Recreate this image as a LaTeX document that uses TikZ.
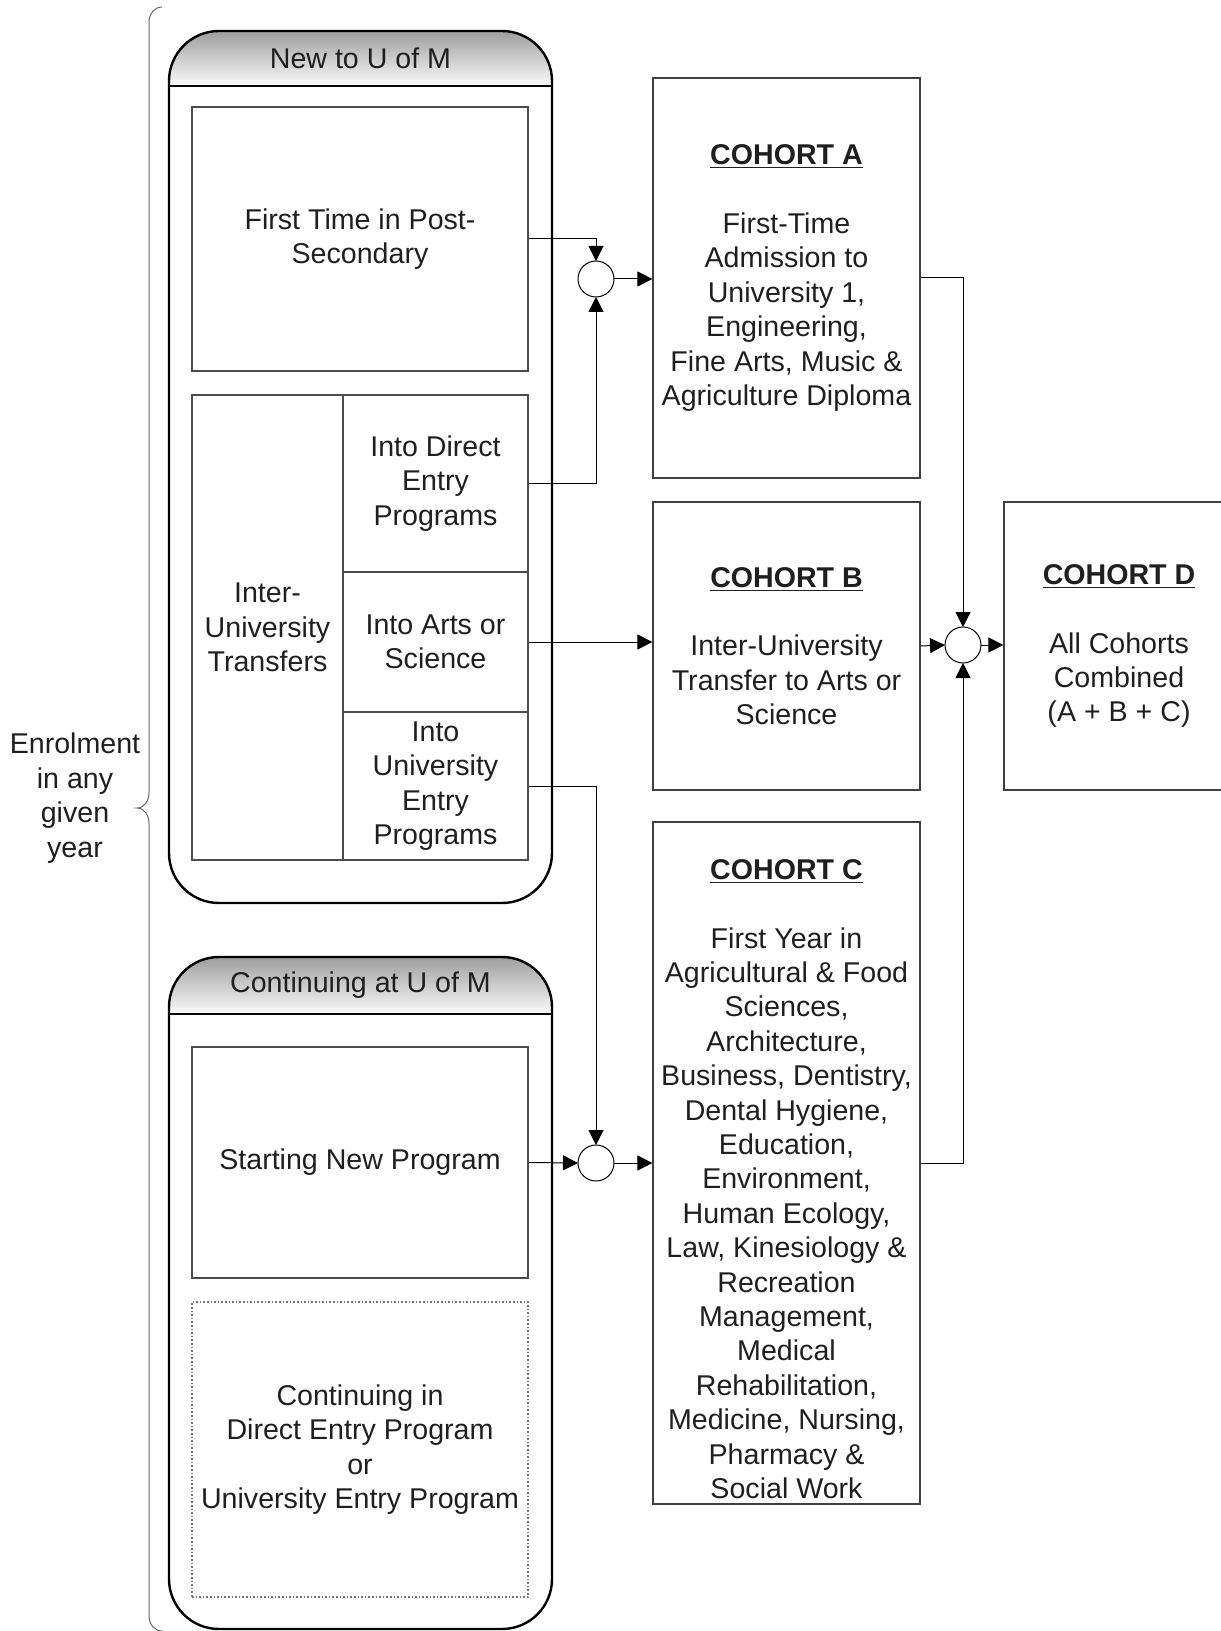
\documentclass[tikz,border=0pt]{standalone}
\usepackage{fontspec}
\setmainfont{Liberation Sans}
\usetikzlibrary{arrows.meta}

\begin{document}
\begin{tikzpicture}[x=0.5pt, y=-0.5pt,
  every node/.style={font=\fontsize{14.3pt}{17.2pt}\selectfont, text=black!88, align=center},
  inbox/.style={draw=black!70, line width=0.8pt, minimum width=168pt, inner sep=0pt},
  cohort/.style={draw=black!75, line width=0.6pt, minimum width=133.5pt, inner sep=0pt},
  sum/.style={circle, draw, line width=0.5pt, minimum size=18pt, inner sep=0pt, outer sep=0pt},
  arr/.style={line width=0.5pt, -{Triangle[length=7.5pt, width=7.5pt]}},
  shell/.style={line width=1.2pt, rounded corners=25pt}]
\useasboundingbox (0,0) rectangle (1220,1631);

% the two rounded containers with shaded headers
\begin{scope}
\clip[rounded corners=25pt] (169,31) rectangle (552,903);
\shade[top color=black!38, bottom color=black!2] (169,31) rectangle (552,86);
\end{scope}
\draw[shell] (169,31) rectangle (552,903);
\draw[line width=1.2pt] (169,86) -- (552,86);
\node (newhead) at (360.5,58) {New to U of M};

\begin{scope}
\clip[rounded corners=25pt] (169,957) rectangle (552,1629);
\shade[top color=black!38, bottom color=black!2] (169,957) rectangle (552,1014);
\end{scope}
\draw[shell] (169,957) rectangle (552,1629);
\draw[line width=1.2pt] (169,1014) -- (552,1014);
\node (conthead) at (360.5,985) {Continuing at U of M};

% boxes inside the containers
\node[inbox, minimum height=132pt] (firsttime) at (360,239) {First Time in Post-\\Secondary};
\node[inbox, minimum width=75.5pt, minimum height=232.5pt] (inter) at (267.5,627.5) {Inter-\\University\\Transfers};
\node[inbox, minimum width=92.5pt, minimum height=88.5pt] (direct) at (435.5,483.5) {Into Direct\\Entry\\Programs};
\node[inbox, minimum width=92.5pt, minimum height=70pt] (arts) at (435.5,642) {Into Arts or\\Science};
\node[inbox, minimum width=92.5pt, minimum height=74pt] (univ) at (435.5,786) {Into\\University\\Entry\\Programs};
\node[inbox, minimum height=115.5pt] (starting) at (360,1162.5) {Starting New Program};
\node[inbox, draw=black!55, densely dotted, minimum height=147.5pt] (continuing) at (360,1449.5)
  {Continuing in\\Direct Entry Program\\or\\University Entry Program};

% cohorts
\node[cohort, minimum height=200pt] (cohortA) at (786.5,278)
  {\underline{\textbf{COHORT A}}\\[17.2pt]First-Time\\Admission to\\University 1,\\Engineering,\\Fine Arts, Music \&\\Agriculture Diploma};
\node[cohort, minimum height=144pt] (cohortB) at (786.5,646)
  {\underline{\textbf{COHORT B}}\\[17.2pt]Inter-University\\Transfer to Arts or\\Science};
\node[cohort, minimum height=341pt] (cohortC) at (786.5,1163) {};
\node (cohortCtext) at (786.5,1179)
  {\underline{\textbf{COHORT C}}\\[17.2pt]First Year in\\Agricultural \& Food\\Sciences,\\Architecture,\\Business, Dentistry,\\Dental Hygiene,\\Education,\\Environment,\\Human Ecology,\\Law, Kinesiology \&\\Recreation\\Management,\\Medical\\Rehabilitation,\\Medicine, Nursing,\\Pharmacy \&\\Social Work};
\node[cohort, minimum width=115pt, minimum height=144pt] (cohortD) at (1119,646)
  {\underline{\textbf{COHORT D}}\\[17.2pt]All Cohorts\\Combined\\(A + B + C)};

% summing junctions
\node[sum] (sum1) at (596,279) {};
\node[sum] (sum2) at (596,1163) {};
\node[sum] (sum3) at (963,645) {};

% connectors
\draw[arr] (firsttime.east) -| (sum1.north);
\draw[arr] (direct.east) -| (sum1.south);
\draw[arr] (sum1.east) -- (sum1.east -| cohortA.west);
\draw[arr] (arts.east) -- (arts.east -| cohortB.west);
\draw[arr] (univ.east) -| (sum2.north);
\draw[arr] (starting.east) -- (sum2.west);
\draw[arr] (sum2.east) -- (sum2.east -| cohortC.west);
\draw[arr] (cohortA.east) -| (sum3.north);
\draw[arr] (cohortB.east) -- (sum3.west);
\draw[arr] (cohortC.east) -| (sum3.south);
\draw[arr] (sum3.east) -- (sum3.east -| cohortD.west);

% brace and its label
\draw[black!60, line width=0.5pt] (162,7) to[out=180, in=90] (149,22) -- (149,793)
  to[out=-90, in=0] (137,808) to[out=0, in=90] (149,823) -- (149,1616) to[out=-90, in=180] (162,1631);
\node (enrol) at (75,798) {Enrolment\\in any\\given\\year};
\end{tikzpicture}
\end{document}
